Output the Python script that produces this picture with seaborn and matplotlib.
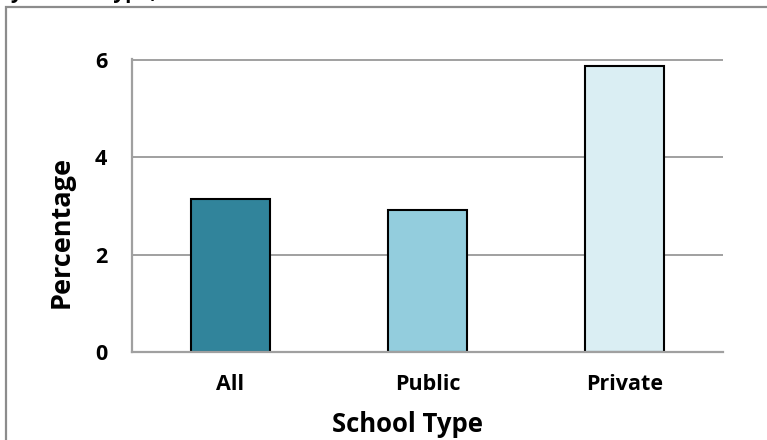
import matplotlib
matplotlib.use("Agg")
import matplotlib.pyplot as plt
import seaborn as sns
from matplotlib.patches import Rectangle

categories = ["All", "Public", "Private"]
values = [3.15, 2.92, 5.88]
colors = ["#31849B", "#93CDDD", "#DAEEF3"]
yticks = [0, 2, 4, 6]
title_fragment = "by School Type, Fall 2015"

sns.set_style("white")
plt.rcParams["font.family"] = ["Open Sans", "DejaVu Sans"]
plt.rcParams["font.weight"] = "bold"
plt.rcParams["text.color"] = "black"
plt.rcParams["axes.labelcolor"] = "black"
plt.rcParams["xtick.color"] = "black"
plt.rcParams["ytick.color"] = "black"

W, H = 767, 440
fig = plt.figure(figsize=(W / 100, H / 100), dpi=100)

# outer chart frame (clipped at right/bottom like reference)
fig.patches.append(Rectangle((6 / W, -0.05), 1.2, (1 - 7 / H) + 0.05,
                             transform=fig.transFigure, fill=False,
                             edgecolor="#8C8C8C", linewidth=1.6))
fig.text(-2 / W, 1 + 8 / H, title_fragment, fontsize=15, fontweight="bold",
         ha="left", va="center", color="black")

ax = fig.add_axes([132 / W, 1 - 352 / H, (723 - 132) / W, (352 - 59) / H])
sns.barplot(x=categories, y=values, hue=categories, palette=colors,
            width=0.406, edgecolor="black", linewidth=1.5, legend=False,
            saturation=1, ax=ax)
ax.set_ylim(0, 6.02)
ax.set_xlim(-0.5, 2.5)
ax.set_yticks(yticks)
ax.yaxis.grid(True, color="#A0A0A0", linewidth=1.4)
ax.set_axisbelow(True)
for s in ["top", "right"]:
    ax.spines[s].set_visible(False)
for s in ["left", "bottom"]:
    ax.spines[s].set_color("#A0A0A0")
    ax.spines[s].set_linewidth(1.6)
ax.tick_params(axis="y", length=0, pad=18, labelsize=15.5, labelcolor="black")
ax.tick_params(axis="x", length=0, pad=16, labelsize=15.5, labelcolor="black")
for lab in ax.get_xticklabels() + ax.get_yticklabels():
    lab.set_fontweight("bold")
ax.set_xlabel("School Type", fontsize=18.5, fontweight="bold", color="black")
ax.set_ylabel("Percentage", fontsize=19.5, fontweight="bold", color="black")
ax.xaxis.set_label_coords((408 - 132) / (723 - 132), -(424 - 352) / (352 - 59))
ax.yaxis.set_label_coords(-(132 - 62) / (723 - 132), (352 - 232) / (352 - 59))
ax.xaxis.label.set_va("center")
ax.yaxis.label.set_va("center")

fig.savefig("out.png", dpi=100)
